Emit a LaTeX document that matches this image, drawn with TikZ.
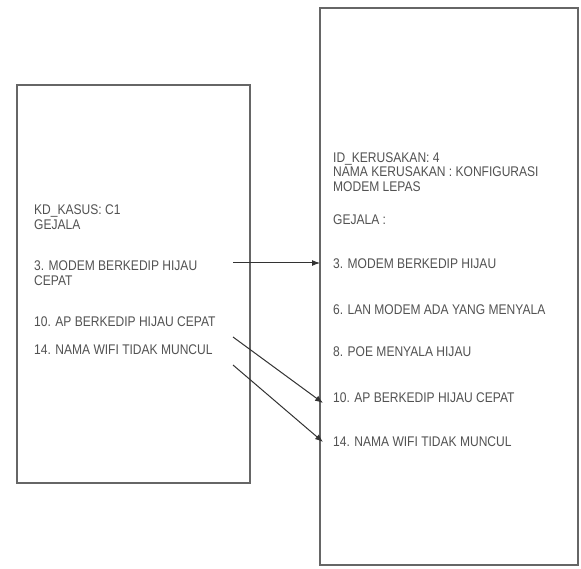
\documentclass[tikz,border=0pt]{standalone}
\usepackage{fontspec}
\setmainfont{Liberation Sans}[FakeStretch=0.86]
\usetikzlibrary{arrows.meta}
\begin{document}
\begin{tikzpicture}[x=1pt,y=-1pt,
  box/.style={draw=black!60,line width=1.2pt},
  txt/.style={anchor=west,inner sep=0pt,text=black!68,font=\fontsize{14}{14.5}\selectfont,align=left},
  conn/.style={draw=black!80,line width=1pt,-{Latex[length=8pt,width=6pt]}}]
\useasboundingbox (0,0) rectangle (581,569);
\fill[white] (0,0) rectangle (581,569);
\draw[box] (17,85) rectangle (250,483);
\draw[box] (320,8) rectangle (578,565);
% left texts
\node[txt] (l1) at (34,217) {KD\_KASUS: C1\\GEJALA};
\node[txt] (l2) at (34,273) {3. MODEM BERKEDIP HIJAU\\CEPAT};
\node[txt] (l3) at (34,322) {10. AP BERKEDIP HIJAU CEPAT};
\node[txt] (l4) at (34,350) {14. NAMA WIFI TIDAK MUNCUL};
% right texts
\node[txt] (r1) at (333,172) {ID\_KERUSAKAN: 4\\NAMA KERUSAKAN : KONFIGURASI\\MODEM LEPAS};
\node[txt] (r2) at (333,220) {GEJALA :};
\node[txt] (r3) at (333,264) {3. MODEM BERKEDIP HIJAU};
\node[txt] (r4) at (333,310) {6. LAN MODEM ADA YANG MENYALA};
\node[txt] (r5) at (333,352) {8. POE MENYALA HIJAU};
\node[txt] (r6) at (333,398) {10. AP BERKEDIP HIJAU CEPAT};
\node[txt] (r7) at (333,442) {14. NAMA WIFI TIDAK MUNCUL};
% connectors
\coordinate (s1) at (233,263);
\coordinate (s2) at (233,337);
\coordinate (s3) at (233,365);
\coordinate (e1) at (320,263);
\coordinate (e2) at (323,403);
\coordinate (e3) at (323,442);
\draw[conn] (s1) -- (e1);
\draw[conn] (s2) -- (e2);
\draw[conn] (s3) -- (e3);
\end{tikzpicture}
\end{document}
